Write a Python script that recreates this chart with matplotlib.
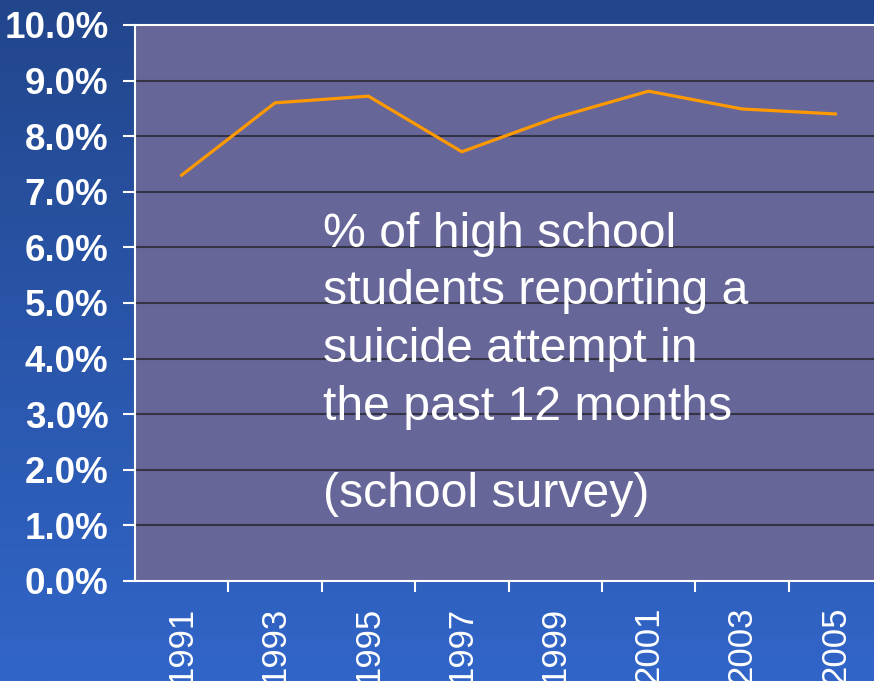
import numpy as np
import matplotlib
matplotlib.use("Agg")
import matplotlib.pyplot as plt
from matplotlib.colors import LinearSegmentedColormap

years = ["1991", "1993", "1995", "1997", "1999", "2001", "2003", "2005"]
values = [7.3, 8.6, 8.72, 7.72, 8.33, 8.81, 8.49, 8.40]
y_ticks = [0, 1, 2, 3, 4, 5, 6, 7, 8, 9, 10]
y_labels = ["0.0%", "1.0%", "2.0%", "3.0%", "4.0%", "5.0%", "6.0%", "7.0%", "8.0%", "9.0%", "10.0%"]
note_lines = ["% of high school", "students reporting a", "suicide attempt in", "the past 12 months"]
note_extra = "(school survey)"

W, H = 874, 681
fig = plt.figure(figsize=(W / 100, H / 100), dpi=100)

# gradient background
bg = fig.add_axes([0, 0, 1, 1], zorder=-10)
cmap = LinearSegmentedColormap.from_list("bg", ["#22468c", "#3165c8"])
grad = np.linspace(0, 1, 256).reshape(-1, 1)
bg.imshow(grad, aspect="auto", cmap=cmap, extent=[0, 1, 0, 1], origin="upper")
bg.set_axis_off()

left, right, top, bottom = 135, 882, 25, 581
ax = fig.add_axes([left / W, 1 - bottom / H, (right - left) / W, (bottom - top) / H])
ax.set_facecolor("#666699")

x = np.arange(len(years))
ax.plot(x, values, color="#ff9900", lw=2.3, solid_joinstyle="miter", zorder=3)

ax.set_xlim(-0.5, len(years) - 0.5)
ax.set_ylim(0, 10)
ax.set_yticks(y_ticks)
ax.set_yticklabels(y_labels)
for yv in y_ticks[1:-1]:
    ax.axhline(yv, color="#333344", lw=1.5, zorder=1)

for s in ["left", "bottom", "top"]:
    ax.spines[s].set_color("white")
    ax.spines[s].set_linewidth(1.5)
ax.spines["right"].set_visible(False)

ax.tick_params(axis="y", colors="white", length=8.6, width=1.5, pad=10.5,
               labelsize=26.5)
for lab in ax.get_yticklabels():
    lab.set_fontfamily("Liberation Sans")
    lab.set_fontweight("bold")

ax.set_xticks(x)
ax.set_xticklabels(years, rotation=90)
ax.set_xticks(np.arange(len(years)) + 0.5, minor=True)
ax.tick_params(axis="x", which="major", length=0, pad=18.5, colors="white",
               labelsize=25)
ax.tick_params(axis="x", which="minor", length=8, width=1.5, color="white")
for lab in ax.get_xticklabels():
    lab.set_fontfamily("Liberation Sans")
    lab.set_va("top")

# annotation text, baselines in pixels
baselines = [247, 304, 362, 420]
for line, b in zip(note_lines, baselines):
    fig.text(323 / W, 1 - b / H, line, color="white", fontsize=34.7,
             family="Liberation Sans", va="baseline", ha="left")
fig.text(323 / W, 1 - 507 / H, note_extra, color="white", fontsize=34.7,
         family="Liberation Sans", va="baseline", ha="left")

fig.savefig("out.png", dpi=100)
